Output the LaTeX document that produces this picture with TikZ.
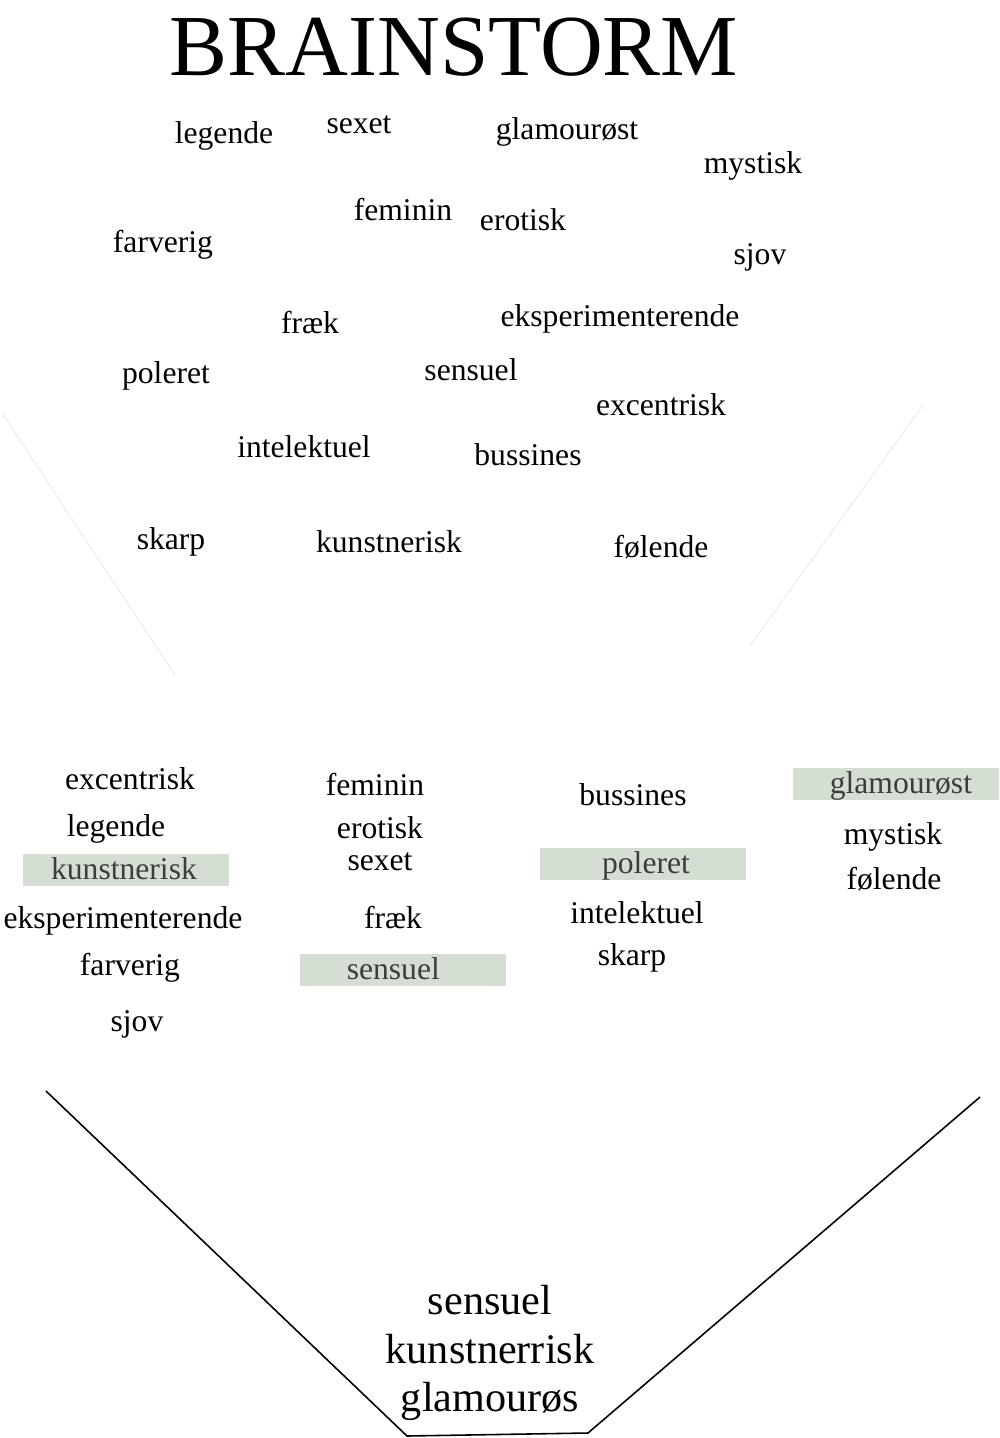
\documentclass[tikz,border=0pt]{standalone}
\usepackage{fontspec}
\setmainfont{Liberation Serif}
\usepackage{tikz}
\usetikzlibrary{positioning}
\definecolor{sage}{RGB}{212,222,211}
\definecolor{hltext}{RGB}{60,62,60}

\begin{document}
\begin{tikzpicture}[x=0.02cm,y=-0.02cm,
  word/.style={anchor=base,inner sep=0pt,font=\fontsize{18}{20}\selectfont},
  hl/.style={fill=sage,text=hltext,inner sep=0pt,minimum width=4.12cm,minimum height=0.64cm,
             text height=14pt,text depth=3pt,font=\fontsize{18}{20}\selectfont},
  big/.style={anchor=base,inner sep=0pt,font=\fontsize{24}{26}\selectfont},
  faint/.style={gray!25,line width=0.3pt},
  funnel/.style={black,line width=0.9pt}
]
\useasboundingbox (0,0) rectangle (1000,1438);

% title
\node[anchor=base,inner sep=0pt,font=\fontsize{49.5}{50}\selectfont] (title) at (454,75) {BRAINSTORM};

% brainstorm words, scattered
\node[word] (legende)   at (224,143) {legende};
\node[word] (sexet)     at (359,133) {sexet};
\node[word] (glamour)   at (567,139) {glamourøst};
\node[word] (mystisk)   at (753,173) {mystisk};
\node[word] (feminin)   at (403,220) {feminin};
\node[word] (erotisk)   at (523,230) {erotisk};
\node[word] (farverig)  at (163,252) {farverig};
\node[word] (sjov)      at (760,264) {sjov};
\node[word] (fraek)     at (310,333) {fræk};
\node[word] (eksp)      at (620,326) {eksperimenterende};
\node[word] (poleret)   at (166,383) {poleret};
\node[word] (sensuel)   at (471,380) {sensuel};
\node[word] (excentr)   at (661,415) {excentrisk};
\node[word] (intel)     at (304,457) {intelektuel};
\node[word] (bussines)  at (528,465) {bussines};
\node[word] (skarp)     at (171,549) {skarp};
\node[word] (kunst)     at (389,552) {kunstnerisk};
\node[word] (folende)   at (661,557) {følende};

% faint funnel lines
\coordinate (fl1) at (2,413);   \coordinate (fl2) at (175,675);
\coordinate (fr1) at (923,405); \coordinate (fr2) at (750,646);
\draw[faint] (fl1) -- (fl2);
\draw[faint] (fr1) -- (fr2);

% column 1
\node[word] (c1excentr) at (130,789) {excentrisk};
\node[word] (c1legende) at (116,836) {legende};
\node[hl]   (c1kunst)   at (126,870) {\hspace*{-2.3pt}kunstnerisk};
\node[word] (c1eksp)    at (123,928) {eksperimenterende};
\node[word] (c1farverig) at (130,975) {farverig};
\node[word] (c1sjov)    at (137,1031) {sjov};

% column 2
\node[word] (c2feminin) at (375,795) {feminin};
\node[word] (c2erotisk) at (380,838) {erotisk};
\node[word] (c2sexet)   at (380,870) {sexet};
\node[word] (c2fraek)   at (393,928) {fræk};
\node[hl]   (c2sensuel) at (403,970) {\hspace*{-11pt}sensuel};

% column 3
\node[word] (c3bussines) at (633,805) {bussines};
\node[hl]   (c3poleret)  at (643,864) {\hspace*{3.4pt}poleret};
\node[word] (c3intel)    at (637,923) {intelektuel};
\node[word] (c3skarp)    at (632,965) {skarp};

% column 4
\node[hl]   (c4glamour)  at (896,784) {\hspace*{5.6pt}glamourøst};
\node[word] (c4mystisk)  at (893,844) {mystisk};
\node[word] (c4folende)  at (894,889) {følende};

% final funnel
\coordinate (bl1) at (46,1091);  \coordinate (bl2) at (407,1436);
\coordinate (br2) at (588,1433); \coordinate (br1) at (980,1097);
\draw[funnel] (bl1) -- (bl2) -- (br2) -- (br1);

\node[big] (fsensuel) at (490,1314) {sensuel};
\node[big] (fkunst)   at (490,1363) {kunstnerrisk};
\node[big] (fglamour) at (490,1411) {glamourøs};
\end{tikzpicture}
\end{document}
